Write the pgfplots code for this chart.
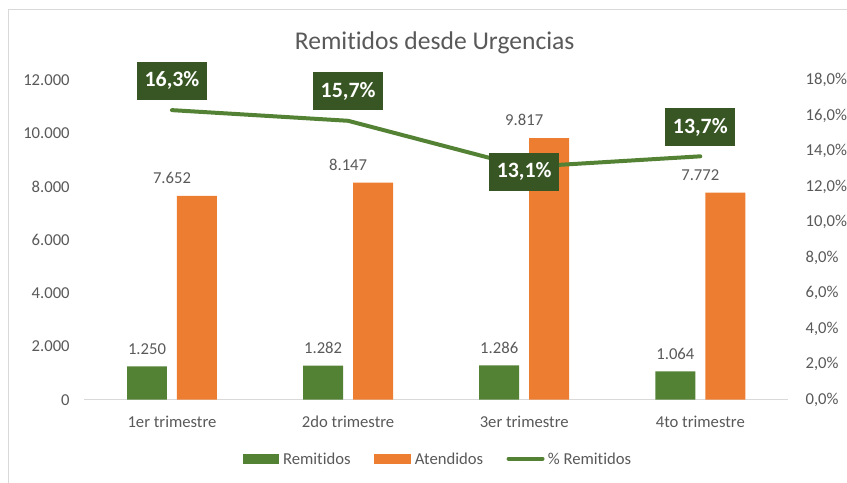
\documentclass[border=0pt]{standalone}
\usepackage{fontspec}
\setmainfont{Carlito}[Ligatures=NoCommon]
\usepackage{pgfplots}
\pgfplotsset{compat=1.18}
\definecolor{verde}{HTML}{548235}
\definecolor{naranja}{HTML}{ED7D31}
\definecolor{verdeosc}{HTML}{375623}
\definecolor{texto}{HTML}{595959}
\definecolor{eje}{HTML}{D9D9D9}

\tikzset{
  fuenteeje/.style={font=\fontsize{12.5}{15}\selectfont},
  caja/.style={fill=verdeosc, text=white, font=\bfseries\fontsize{16.4}{19}\selectfont,
    inner xsep=5.8pt, inner ysep=0pt, minimum height=28.5pt, anchor=center},
}

\begin{document}
\begin{tikzpicture}
% marco, titulo y leyenda en pixeles de la imagen (origen abajo a la izquierda)
\begin{scope}[x=0.75pt,y=0.75pt]
\useasboundingbox (0,0) rectangle (847,483);
\draw[eje, line width=0.75pt] (9,-12) -- (9,473) -- (860,473);
\node[texto, font=\fontsize{19.2}{23}\selectfont, anchor=base, inner sep=0pt] at (435,433.7) {Remitidos desde Urgencias};
\fill[verde] (243,19) rectangle (279,29);
\node[texto, fuenteeje, anchor=west, inner sep=0pt] at (283,24) {Remitidos};
\fill[naranja] (374,19) rectangle (411,29);
\node[texto, fuenteeje, anchor=west, inner sep=0pt] at (415,24) {Atendidos};
\draw[verde, line width=3pt, line cap=round] (509,24) -- (543,24);
\node[texto, fuenteeje, anchor=west, inner sep=0pt] at (548,24) {\% Remitidos};
\end{scope}

% barras (eje izquierdo)
\begin{axis}[
  at={(63pt,62.25pt)}, anchor=south west, scale only axis,
  width=528.75pt, height=240pt,
  xmin=-0.5, xmax=3.5, ymin=0, ymax=12000,
  axis x line*=bottom, axis y line*=left,
  x axis line style={-, eje, line width=1pt},
  y axis line style={draw=none},
  major tick length=0pt,
  scaled y ticks=false,
  xtick={0,1,2,3},
  xticklabels={1er trimestre,2do trimestre,3er trimestre,4to trimestre},
  ytick={0,2000,4000,6000,8000,10000,12000},
  yticklabels={0,2.000,4.000,6.000,8.000,10.000,12.000},
  ticklabel style={texto, fuenteeje, inner sep=0pt},
  xticklabel style={anchor=base, yshift=-21pt},
  yticklabel style={anchor=east, xshift=-10.5pt},
  clip=false,
]
\addplot[ybar, bar width=30pt, bar shift=-18.75pt, fill=verde, draw=none,
  nodes near coords, point meta=explicit symbolic,
  every node near coord/.append style={texto, fuenteeje, anchor=base, inner sep=0pt, xshift=-18.75pt, yshift=9.2pt}]
  coordinates {(0,1250)[1.250] (1,1282)[1.282] (2,1286)[1.286] (3,1064)[1.064]};
\addplot[ybar, bar width=30pt, bar shift=18.75pt, fill=naranja, draw=none,
  nodes near coords, point meta=explicit symbolic,
  every node near coord/.append style={texto, fuenteeje, anchor=base, inner sep=0pt, yshift=9.2pt}]
  coordinates {(0,7652)[7.652] (1,8147)[8.147] (2,9817)[9.817] (3,7772)[7.772]};
\end{axis}

% porcentaje (eje derecho)
\begin{axis}[
  at={(63pt,62.25pt)}, anchor=south west, scale only axis,
  width=528.75pt, height=240pt,
  xmin=-0.5, xmax=3.5, ymin=0, ymax=18,
  axis x line=none, axis y line*=right,
  y axis line style={draw=none},
  major tick length=0pt,
  ytick={0,2,4,6,8,10,12,14,16,18},
  yticklabels={{0,0\%},{2,0\%},{4,0\%},{6,0\%},{8,0\%},{10,0\%},{12,0\%},{14,0\%},{16,0\%},{18,0\%}},
  yticklabel style={texto, fuenteeje, inner sep=0pt, anchor=west, xshift=12.75pt},
  clip=false,
]
\addplot[verde, line width=3pt, line join=round, line cap=round]
  coordinates {(0,16.3) (1,15.7) (2,13.1) (3,13.7)};
\addplot[draw=none, nodes near coords, point meta=explicit symbolic,
  every node near coord/.append style={caja, yshift=22pt}]
  coordinates {(0,16.3)[16,3\%] (1,15.7)[15,7\%] (3,13.7)[13,7\%]};
\addplot[draw=none, nodes near coords, point meta=explicit symbolic,
  every node near coord/.append style={caja, yshift=-3.5pt}]
  coordinates {(2,13.1)[13,1\%]};
\end{axis}
\end{tikzpicture}
\end{document}
